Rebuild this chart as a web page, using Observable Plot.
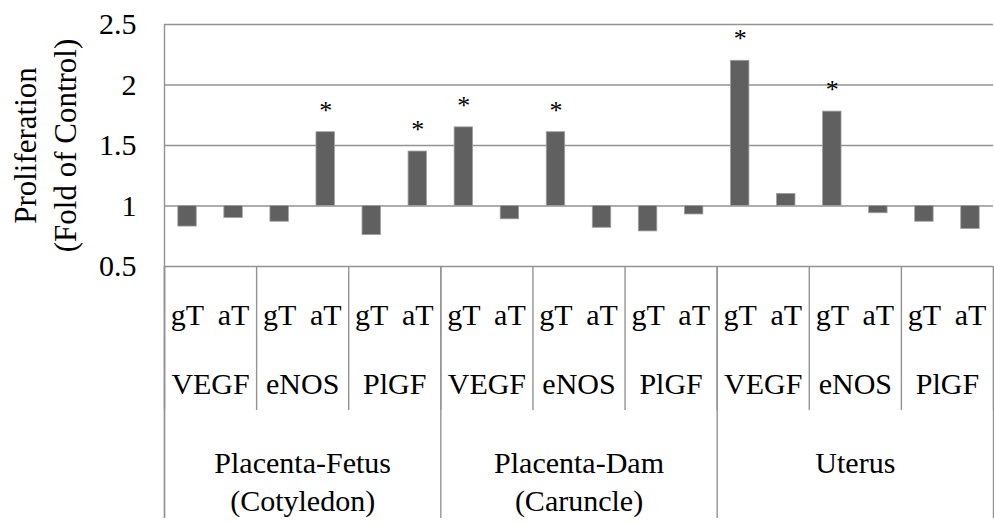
<!DOCTYPE html>
<html>
<head>
<meta charset="utf-8">
<script src="https://cdn.jsdelivr.net/npm/d3@7"></script>
<script src="https://cdn.jsdelivr.net/npm/@observablehq/plot@0.6"></script>
<style>
  body { margin: 0; background: #fff; }
  #chart svg { display: block; }
</style>
</head>
<body>
<div id="chart"></div>
<script>
// ---- data ----
const tissues = ["Placenta-Fetus\n(Cotyledon)", "Placenta-Dam\n(Caruncle)", "Uterus"];
const genes = ["VEGF", "eNOS", "PlGF"];
const treatments = ["gT", "aT"];
const values = [
  0.83, 0.90, 0.87, 1.61, 0.76, 1.45,
  1.65, 0.89, 1.61, 0.82, 0.79, 0.93,
  2.20, 1.10, 1.78, 0.94, 0.87, 0.81
];
const significant = [
  false, false, false, true, false, true,
  true, false, true, false, false, false,
  true, false, true, false, false, false
];
const yTicks = [0.5, 1, 1.5, 2, 2.5];
const baseline = 1;

// ---- derived tables ----
const bars = [];
let k = 0;
tissues.forEach((t, ti) => genes.forEach((g, gi) => treatments.forEach((tr) => {
  bars.push({i: k, tissue: t, gene: g, treatment: tr, value: values[k], sig: significant[k]});
  k++;
})));
const nBars = bars.length;
const geneGroups = [];
tissues.forEach((t, ti) => genes.forEach((g, gi) => {
  const start = (ti * genes.length + gi) * treatments.length;
  geneGroups.push({gene: g, start, end: start + treatments.length});
}));
const tissueGroups = tissues.map((t, ti) => {
  const start = ti * genes.length * treatments.length;
  return {tissue: t, start, end: start + genes.length * treatments.length};
});
const geneBounds = d3.range(0, nBars + 1, treatments.length);
const tissueBounds = d3.range(0, nBars + 1, genes.length * treatments.length);

const font = "'Liberation Serif', 'Times New Roman', serif";
const grid = "#939393";
const W = 994, H = 524, mTop = 24, mBottom = 258, mLeft = 164, mRight = 1;
const frameH = H - mTop - mBottom;

const chart = Plot.plot({
  width: W,
  height: H,
  marginTop: mTop,
  marginBottom: mBottom,
  marginLeft: mLeft,
  marginRight: mRight,
  style: {fontFamily: font, background: "#fff", color: "#000"},
  x: {domain: [0, nBars], axis: null},
  y: {domain: [0.5, 2.5], axis: null},
  marks: [
    Plot.axisY({ticks: yTicks, tickFormat: d => String(d), tickSize: 0, tickPadding: 28, fontSize: 30, label: null, fill: "#000"}),
    Plot.ruleY(yTicks, {stroke: grid, strokeWidth: 1.4}),
    // left axis line through category table
    Plot.ruleX([0], {stroke: grid, strokeWidth: 1.4, insetBottom: -252}),
    // gene separators
    Plot.ruleX(geneBounds, {stroke: grid, strokeWidth: 1.4, insetTop: frameH, insetBottom: -144}),
    // tissue separators
    Plot.ruleX(tissueBounds, {stroke: grid, strokeWidth: 1.4, insetTop: frameH, insetBottom: -252}),
    // bars
    Plot.rectY(bars, {
      x1: d => d.i, x2: d => d.i + 1, y1: baseline, y2: "value",
      insetLeft: 13.8, insetRight: 13.8,
      fill: "#606060", stroke: "#a0a0a0", strokeWidth: 0.8
    }),
    // asterisks
    Plot.text(bars.filter(d => d.sig), {
      x: d => d.i + 0.5, y: "value", text: () => "*",
      dy: -22, fontSize: 26, lineAnchor: "middle", fill: "#000"
    }),
    // treatment labels
    Plot.text(bars, {
      x: d => d.i + 0.5, text: "treatment", frameAnchor: "bottom",
      dy: 49, lineAnchor: "middle", fontSize: 30, fill: "#000"
    }),
    // gene labels
    Plot.text(geneGroups, {
      x: d => (d.start + d.end) / 2, text: "gene", frameAnchor: "bottom",
      dy: 118, lineAnchor: "middle", fontSize: 30, fill: "#000"
    }),
    // tissue labels
    Plot.text(tissueGroups, {
      x: d => (d.start + d.end) / 2, text: "tissue", frameAnchor: "bottom",
      dy: 180, lineAnchor: "top", lineHeight: 1.25, fontSize: 30, fill: "#000"
    }),
    // y-axis title
    Plot.text(["Proliferation\n(Fold of Control)"], {
      frameAnchor: "left", dx: -121, rotate: -90, textAnchor: "middle", lineAnchor: "middle",
      lineHeight: 1.27, fontSize: 31, fill: "#000"
    })
  ]
});
document.getElementById("chart").appendChild(chart);
</script>
</body>
</html>
